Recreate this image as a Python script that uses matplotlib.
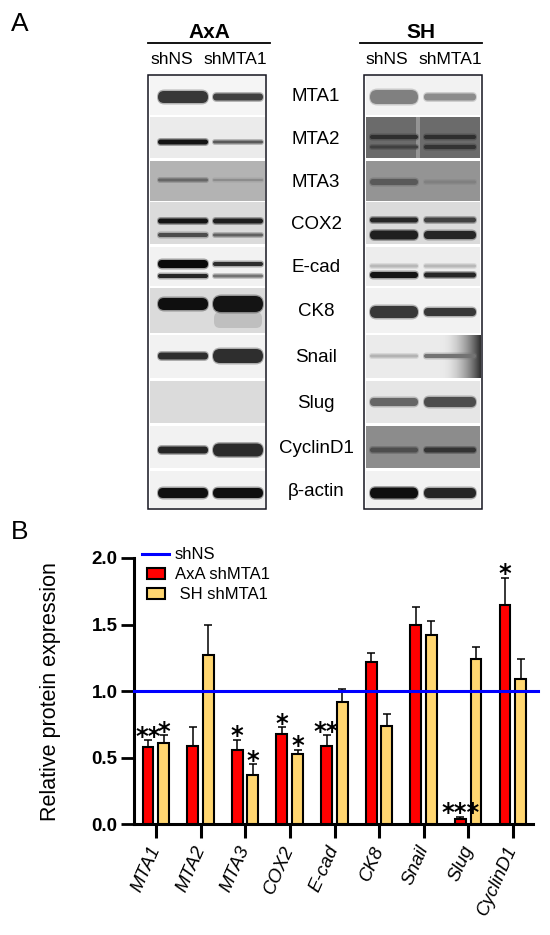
import numpy as np
import matplotlib
matplotlib.use('Agg')
import matplotlib.pyplot as plt
import matplotlib.patches as mpatches
from matplotlib.lines import Line2D
from matplotlib.legend_handler import HandlerPatch

plt.rcParams['font.family'] = ['Liberation Sans', 'DejaVu Sans']

# ---------------- panel A: western blot data ----------------
blot_rows = ['MTA1', 'MTA2', 'MTA3', 'COX2', 'E-cad', 'CK8', 'Snail', 'Slug', 'CyclinD1', 'β-actin']
lanes = ['shNS', 'shMTA1']

# background grey of each strip (1 = white)
axa_bg = [0.96, 0.92, 0.70, 0.86, 0.95, 0.86, 0.95, 0.86, 0.95, 0.95]
sh_bg = [0.95, 0.42, 0.58, 0.86, 0.93, 0.95, 0.92, 0.90, 0.55, 0.95]

# bands: (y centre px, shNS thickness, shNS grey, shMTA1 thickness, shMTA1 grey)
axa_bands = [
    (97, 12, 0.22, 7, 0.25),
    (142, 5, 0.08, 3, 0.35),
    (180, 3, 0.40, 2, 0.55),
    (221, 5, 0.08, 5, 0.12),
    (235, 4, 0.30, 3, 0.38),
    (264, 8, 0.04, 4, 0.18),
    (276, 4, 0.15, 3, 0.45),
    (304, 12, 0.06, 16, 0.08),
    (356, 7, 0.18, 14, 0.18),
    (450, 7, 0.15, 13, 0.17),
    (493, 10, 0.06, 10, 0.06),
]
sh_bands = [
    (97, 14, 0.50, 7, 0.55),
    (137, 4, 0.18, 4, 0.18),
    (147, 3, 0.25, 4, 0.20),
    (182, 6, 0.35, 3, 0.50),
    (220, 5, 0.15, 5, 0.25),
    (235, 9, 0.12, 8, 0.15),
    (266, 3, 0.72, 3, 0.72),
    (275, 6, 0.08, 5, 0.15),
    (312, 12, 0.22, 8, 0.22),
    (356, 3, 0.70, 4, 0.45),
    (402, 8, 0.40, 10, 0.30),
    (450, 5, 0.30, 5, 0.20),
    (493, 11, 0.06, 10, 0.15),
]

# ---------------- panel B: quantification ----------------
genes = ['MTA1', 'MTA2', 'MTA3', 'COX2', 'E-cad', 'CK8', 'Snail', 'Slug', 'CyclinD1']
axa_mean = [0.58, 0.59, 0.56, 0.68, 0.59, 1.22, 1.50, 0.04, 1.65]
axa_err = [0.05, 0.14, 0.075, 0.05, 0.08, 0.065, 0.13, 0.015, 0.20]
sh_mean = [0.61, 1.27, 0.37, 0.53, 0.92, 0.74, 1.42, 1.24, 1.09]
sh_err = [0.06, 0.23, 0.08, 0.03, 0.095, 0.09, 0.105, 0.09, 0.155]
axa_sig = ['**', '', '*', '*', '**', '', '', '***', '*']
sh_sig = ['*', '', '*', '*', '', '', '', '', '']
ref_level = 1.0

fig = plt.figure(figsize=(5.5, 9.35), dpi=100)

# overlay axes in pixel units for the blot panel
ax0 = fig.add_axes([0, 0, 1, 1])
ax0.set_xlim(0, 550)
ax0.set_ylim(935, 0)
ax0.axis('off')

strip_top = [75, 117, 161, 202, 247, 288, 335, 381, 426, 471]
strip_bot = [115, 158, 201, 244, 286, 333, 378, 423, 468, 508]

panels = [
    dict(name='AxA', box=(148.3, 266), lanes=[(158, 208), (213, 263)], bg=axa_bg, bands=axa_bands,
         line=(148, 270), lab_x=[171.5, 235]),
    dict(name='SH', box=(364.3, 481.7), lanes=[(370, 418), (424, 476)], bg=sh_bg, bands=sh_bands,
         line=(360, 481.7), lab_x=[387, 450]),
]

for p in panels:
    x0, x1 = p['box']
    # header
    ax0.text((p['line'][0] + p['line'][1]) / 2, 38.5, p['name'], ha='center', va='baseline',
             fontsize=15, fontweight='bold')
    ax0.plot(p['line'], [42.7, 42.7], color='black', lw=1.3)
    for lx, ln in zip(p['lab_x'], lanes):
        ax0.text(lx, 63.5, ln, ha='center', va='baseline', fontsize=12.5)
    # strips
    for i in range(len(blot_rows)):
        g = p['bg'][i]
        ax0.add_patch(mpatches.Rectangle((x0 + 1.5, strip_top[i]), x1 - x0 - 3,
                                         strip_bot[i] - strip_top[i],
                                         facecolor=(g, g, g), edgecolor='none', zorder=1))
    # bands
    for yc, h_ns, g_ns, h_kd, g_kd in p['bands']:
        for (lx0, lx1), h, g in zip(p['lanes'], [h_ns, h_kd], [g_ns, g_kd]):
            # soft halo then core
            ax0.add_patch(mpatches.FancyBboxPatch(
                (lx0 - 1, yc - h / 2 - 1.5), lx1 - lx0 + 2, h + 3,
                boxstyle=mpatches.BoxStyle('Round', pad=0, rounding_size=(h + 3) / 2),
                facecolor=(g, g, g), edgecolor='none', alpha=0.35, zorder=2))
            ax0.add_patch(mpatches.FancyBboxPatch(
                (lx0, yc - h / 2), lx1 - lx0, h,
                boxstyle=mpatches.BoxStyle('Round', pad=0, rounding_size=h / 2),
                facecolor=(g, g, g), edgecolor='none', zorder=3))
    # frame
    ax0.add_patch(mpatches.Rectangle((x0, 75), x1 - x0, 509 - 75, facecolor='none',
                                     edgecolor='#15151f', lw=1.1, zorder=4))

# membrane artefacts: lighter lane gap on SH MTA2, dark corner on SH Snail, smear under AxA CK8
ax0.add_patch(mpatches.Rectangle((416, strip_top[1]), 4, strip_bot[1] - strip_top[1],
                                 facecolor='0.58', edgecolor='none', zorder=1.5))
grad = np.linspace(0.92, 0.1, 60)[None, :]
ax0.imshow(grad, extent=(440, 480.2, strip_bot[6], strip_top[6]), cmap='gray', vmin=0, vmax=1,
           aspect='auto', alpha=np.linspace(0, 0.9, 60)[None, :], zorder=1.5)
ax0.add_patch(mpatches.FancyBboxPatch((214, 312), 48, 16,
                                      boxstyle=mpatches.BoxStyle('Round', pad=0, rounding_size=6),
                                      facecolor='0.5', edgecolor='none', alpha=0.3, zorder=1.5))
ax0.set_xlim(0, 550)
ax0.set_ylim(935, 0)

for i, name in enumerate(blot_rows):
    ax0.text(316, (strip_top[i] + strip_bot[i]) / 2 + 1.5, name, ha='center', va='center',
             fontsize=13.5)

ax0.text(11, 31, 'A', fontsize=19, va='baseline', ha='left')
ax0.text(11, 539, 'B', fontsize=19, va='baseline', ha='left')

# ---------------- bar chart ----------------
ax = fig.add_axes([134.3 / 550, (935 - 824.3) / 935, (533 - 134.3) / 550, 266.3 / 935])
ax.patch.set_alpha(0)
x = np.arange(len(genes))
off_r, off_y, w = -0.18, 0.17, 0.245

ax.errorbar(x + off_r, axa_mean, yerr=[np.zeros(len(genes)), axa_err], fmt='none',
            ecolor='black', elinewidth=1.1, capsize=2.8, capthick=1.1, zorder=2)
ax.errorbar(x + off_y, sh_mean, yerr=[np.zeros(len(genes)), sh_err], fmt='none',
            ecolor='black', elinewidth=1.1, capsize=2.8, capthick=1.1, zorder=2)
ax.bar(x + off_r, axa_mean, w, color='#ff0000', edgecolor='black', lw=1.5, zorder=3)
ax.bar(x + off_y, sh_mean, w, color='#ffd670', edgecolor='black', lw=1.5, zorder=3)

xl = (-0.487, 8.447)
ax.plot([xl[0], 8.57], [ref_level, ref_level], color='#0000ff', lw=2.2, zorder=5, clip_on=False)

for offs, means, errs, sigs in [(off_r, axa_mean, axa_err, axa_sig), (off_y, sh_mean, sh_err, sh_sig)]:
    for xi, m, e, s in zip(x + offs, means, errs, sigs):
        if s:
            ax.annotate(s, (xi, m + e), xytext=(0, -2.5), textcoords='offset points',
                        ha='center', va='baseline', fontsize=17.5, fontweight='bold',
                        family='DejaVu Sans', zorder=6)

ax.set_xlim(*xl)
ax.set_ylim(0, 2.0)
ax.spines['top'].set_visible(False)
ax.spines['right'].set_visible(False)
ax.spines['left'].set_linewidth(2.2)
ax.spines['bottom'].set_linewidth(2.2)
ax.set_yticks([0, 0.5, 1.0, 1.5, 2.0])
ax.set_yticklabels(['%.1f' % v for v in [0, 0.5, 1.0, 1.5, 2.0]], fontsize=13.5, fontweight='bold')
ax.tick_params(axis='y', length=9.5, width=2.0, pad=2.5)
ax.set_xticks(x)
ax.set_xticklabels(genes, rotation=66, ha='right', va='center', rotation_mode='anchor',
                   fontsize=13.5, style='italic')
ax.tick_params(axis='x', length=10, width=2.2, pad=6)
ax.set_ylabel('Relative protein expression', fontsize=15.5)
ax.yaxis.set_label_coords(-0.185, 0.5)


def small_box(legend, orig_handle, xdescent, ydescent, width, height, fontsize):
    return mpatches.Rectangle((width * 0.18 - xdescent, -ydescent), width * 0.66, height)


handles = [Line2D([], [], color='#0000ff', lw=2.2),
           mpatches.Patch(facecolor='#ff0000', edgecolor='black', lw=1.5),
           mpatches.Patch(facecolor='#ffd670', edgecolor='black', lw=1.5)]
ax.legend(handles, ['shNS', 'AxA shMTA1', ' SH shMTA1'], loc='upper left',
          bbox_to_anchor=(0.02, 1.04), frameon=False, fontsize=12, handlelength=1.6,
          handletextpad=0.35, labelspacing=0.3, borderpad=0, borderaxespad=0,
          handler_map={mpatches.Patch: HandlerPatch(patch_func=small_box)})

fig.savefig('out.png', dpi=100)
